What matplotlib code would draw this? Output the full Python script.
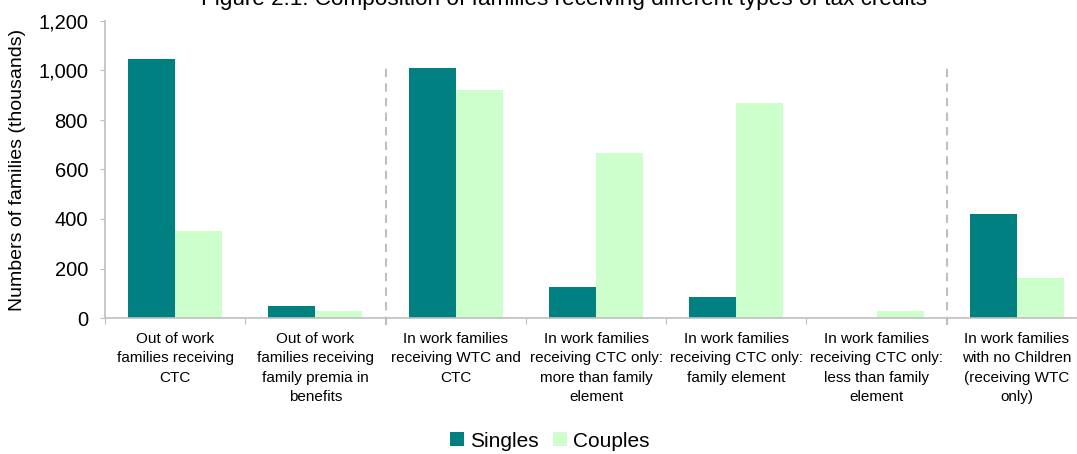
import matplotlib.pyplot as plt
import numpy as np

plt.rcParams['font.family'] = ['Liberation Sans', 'DejaVu Sans']

categories = ['Out of work\nfamilies receiving\nCTC',
              'Out of work\nfamilies receiving\nfamily premia in\nbenefits',
              'In work families\nreceiving WTC and\nCTC',
              'In work families\nreceiving CTC only:\nmore than family\nelement',
              'In work families\nreceiving CTC only:\nfamily element',
              'In work families\nreceiving CTC only:\nless than family\nelement',
              'In work families\nwith no Children\n(receiving WTC\nonly)']
singles = [1045, 48, 1012, 125, 85, 2, 420]
couples = [351, 28, 920, 665, 867, 28, 161]

teal = '#008080'
mint = '#CCFFCC'
grey = '#BFBFBF'

fig = plt.figure(figsize=(10.77, 4.54), dpi=100)
ax = fig.add_axes([105/1077, 136/454, 982/1077, 297/454])

x = np.arange(len(categories))
w = 0.335
ax.bar(x - w/2, singles, width=w, color=teal, label='Singles')
ax.bar(x + w/2, couples, width=w, color=mint, label='Couples')

ax.set_xlim(-0.5, len(categories) - 0.5)
ax.set_ylim(0, 1200)

# group separators
for sx in [1.5, 5.5]:
    ax.plot([sx, sx], [-30, 1020], color=grey, linestyle=(0, (4, 3)),
            linewidth=1.5, clip_on=False)

ax.set_yticks(np.arange(0, 1201, 200))
ax.set_yticklabels(['{:,}'.format(v) for v in range(0, 1201, 200)], fontsize=14.5)
ax.set_xticks(np.arange(-0.5, len(categories), 1))
ax.set_xticklabels([])
ax.set_xticks(x, minor=True)
ax.set_xticklabels(categories, minor=True, fontsize=11, linespacing=1.5)
ax.tick_params(axis='x', which='minor', length=0, pad=10)
ax.tick_params(axis='x', which='major', length=4, color=grey)
ax.tick_params(axis='y', length=3.6, color=grey, pad=8.6)

for s in ['top', 'right']:
    ax.spines[s].set_visible(False)
for s in ['left', 'bottom']:
    ax.spines[s].set_color(grey)
    ax.spines[s].set_linewidth(1.2)

ax.set_ylabel('Numbers of families (thousands)', fontsize=14)
ax.yaxis.set_label_coords(-0.0805, 0.5)

fig.text(564/1077, 449/454, 'Figure 2.1: Composition of families receiving different types of tax credits',
         ha='center', va='baseline', fontsize=16.2)

ax.legend(loc='lower center', bbox_to_anchor=(0.453, -0.51), ncol=2, frameon=False,
          fontsize=15, handlelength=0.65, handleheight=0.65, handletextpad=0.3,
          columnspacing=0.7)

fig.savefig('out.png', dpi=100)
